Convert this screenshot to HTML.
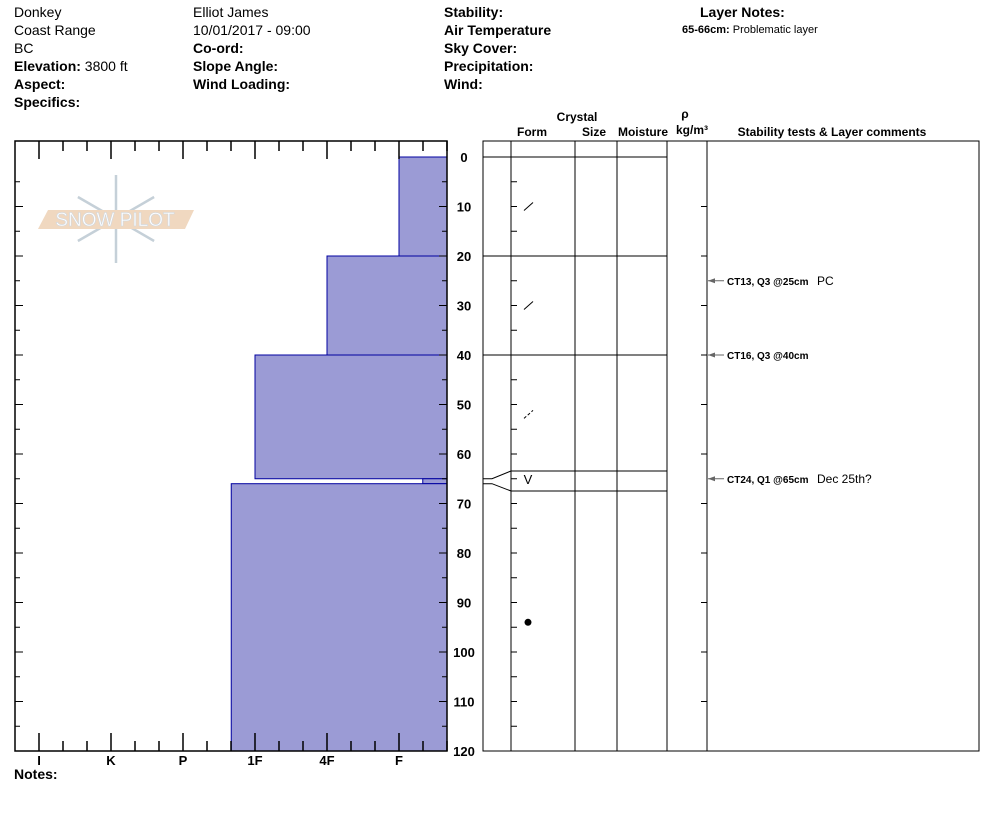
<!DOCTYPE html>
<html><head><meta charset="utf-8"><style>
body{margin:0;background:#fff;font-family:"Liberation Sans",Arial,sans-serif;}
.h{position:absolute;font-size:14px;color:#000;white-space:nowrap}
b{font-weight:bold}
</style></head><body>
<div style="position:relative;width:994px;height:840px;overflow:hidden">
<div class="h" style="left:14px;top:4px">Donkey</div>
<div class="h" style="left:14px;top:22px">Coast Range</div>
<div class="h" style="left:14px;top:40px">BC</div>
<div class="h" style="left:14px;top:58px"><b>Elevation:</b> 3800 ft</div>
<div class="h" style="left:14px;top:76px"><b>Aspect:</b></div>
<div class="h" style="left:14px;top:94px"><b>Specifics:</b></div>
<div class="h" style="left:193px;top:4px">Elliot James</div>
<div class="h" style="left:193px;top:22px">10/01/2017 - 09:00</div>
<div class="h" style="left:193px;top:40px"><b>Co-ord:</b></div>
<div class="h" style="left:193px;top:58px"><b>Slope Angle:</b></div>
<div class="h" style="left:193px;top:76px"><b>Wind Loading:</b></div>
<div class="h" style="left:444px;top:4px"><b>Stability:</b></div>
<div class="h" style="left:444px;top:22px"><b>Air Temperature</b></div>
<div class="h" style="left:444px;top:40px"><b>Sky Cover:</b></div>
<div class="h" style="left:444px;top:58px"><b>Precipitation:</b></div>
<div class="h" style="left:444px;top:76px"><b>Wind:</b></div>
<div class="h" style="left:700px;top:4px"><b>Layer Notes:</b></div>
<div class="h" style="left:682px;top:24px;font-size:11px"><b>65-66cm:</b> Problematic layer</div>
<div class="h" style="left:14px;top:766px"><b>Notes:</b></div>
<svg id="c" width="994" height="840" style="position:absolute;left:0;top:0" font-family="Liberation Sans, Arial, sans-serif"></svg>
</div>
<script>
const depthTicks=[0,10,20,30,40,50,60,70,80,90,100,110,120];
const hardLabels=['I','K','P','1F','4F','F'];
const layerTop=[0,20,40,65,66];
const layerBot=[20,40,65,66,120];
const layerHard=[5,4,3,5.33,2.67]; // index on hardness axis (I=0 .. F=5)
const layerLines=[0,20,40];
const formSym=[['/',10],['/',30],['⁄',52],['V',65],['●',94]];
const tests=[['CT13, Q3 @25cm','PC',25],['CT16, Q3 @40cm','',40],['CT24, Q1 @65cm','Dec 25th?',65]];
const svg=document.getElementById('c');const NS='http://www.w3.org/2000/svg';
const y=d=>157+d*4.95, hx=h=>39+h*72;
function el(t,a,p){const e=document.createElementNS(NS,t);for(const k in a)e.setAttribute(k,a[k]);(p||svg).appendChild(e);return e;}
// logo
const lg=el('g',{});
for(let a=0;a<6;a++){const r=a*60*Math.PI/180;const cx=116,cy=219;
 el('line',{x1:cx,y1:cy,x2:cx+44*Math.sin(r),y2:cy-44*Math.cos(r),stroke:'#c5d0d8','stroke-width':2.5},lg);}
el('polygon',{points:'48,210 194,210 185,229 38,229',fill:'#f0d8c0'},lg);
const lt=el('text',{x:115,y:226,'text-anchor':'middle','font-size':19,fill:'#fff',stroke:'#d0d8e0','stroke-width':0.6},lg);lt.textContent='SNOW PILOT';
// bars
layerTop.forEach((t,i)=>{const x=hx(layerHard[i]);const r=el('rect',{x:x,y:y(t),width:447-x,height:y(layerBot[i])-y(t),fill:'#9b9bd5',stroke:'#0000a0','stroke-width':1});
});
// left frame
const lf=el('rect',{x:15,y:141,width:432,height:610,fill:'none',stroke:'#000','stroke-width':1.5});
for(let i=0;i<18;i++){const x=39+i*24;if(x>447)break;const L=(i%3==0)?18:10;
 el('line',{x1:x,y1:141,x2:x,y2:141+L,stroke:'#000','stroke-width':1.5});el('line',{x1:x,y1:751,x2:x,y2:751-L,stroke:'#000','stroke-width':1.5});}
hardLabels.forEach((l,i)=>{const t=el('text',{x:hx(i),y:765,'text-anchor':'middle','font-size':13,'font-weight':'bold'});t.textContent=l;});
for(let d=5;d<120;d+=5){const L=d%10==0?8:5;el('line',{x1:15,y1:y(d),x2:15+L,y2:y(d),stroke:'#000'});el('line',{x1:447,y1:y(d),x2:447-L,y2:y(d),stroke:'#000'});}
depthTicks.forEach(d=>{const t=el('text',{x:464,y:y(d)+5,'text-anchor':'middle','font-size':13,'font-weight':'bold'});t.textContent=d;});
// right panel
const rf=el('rect',{x:483,y:141,width:496,height:610,fill:'none',stroke:'#000','stroke-width':1});
[511,575,617,667,707].forEach(x=>el('line',{x1:x,y1:141,x2:x,y2:751,stroke:'#000'}));
[['Crystal',577,121],['Form',532,136],['Size',594,136],['Moisture',643,136],['ρ',685,118],['kg/m³',692,134],['Stability tests & Layer comments',832,136]].forEach(([s,x,yy])=>{const t=el('text',{x:x,y:yy,'text-anchor':'middle','font-size':12,'font-weight':'bold'});t.textContent=s;});
for(let d=5;d<=115;d+=5){el('line',{x1:511,y1:y(d),x2:517,y2:y(d),stroke:'#000'});if(d%10==0)el('line',{x1:707,y1:y(d),x2:701,y2:y(d),stroke:'#000'});}
layerLines.forEach(d=>{el('line',{x1:483,y1:y(d),x2:667,y2:y(d),stroke:'#000'});});
el('line',{x1:511,y1:471,x2:667,y2:471,stroke:'#000'});el('line',{x1:511,y1:491,x2:667,y2:491,stroke:'#000'});
el('polyline',{points:`483,${y(65)} 492,${y(65)} 511,471`,fill:'none',stroke:'#000'});
el('polyline',{points:`483,${y(66)} 492,${y(66)} 511,491`,fill:'none',stroke:'#000'});
formSym.forEach(([s,d])=>{let t;if(s=='●'){t=el('circle',{cx:528,cy:y(d),r:3.5,fill:'#000'});}else if(s=='V'){t=el('text',{x:528,y:y(d)+5,'text-anchor':'middle','font-size':13});t.textContent='V';}
 else{t=el('line',{x1:524,y1:y(d)+4,x2:533,y2:y(d)-4,stroke:'#000','stroke-dasharray':s=='/'?'none':'3,2'});}
 });
tests.forEach(([a,b,d])=>{const yy=y(d);el('line',{x1:708,y1:yy,x2:724,y2:yy,stroke:'#666'});el('polygon',{points:`708,${yy} 715,${yy-2.5} 715,${yy+2.5}`,fill:'#666'});
 const t=el('text',{x:727,y:yy+4,'font-size':10,'font-weight':'bold'});t.textContent=a;
 if(b){const u=el('text',{x:817,y:yy+4,'font-size':12});u.textContent=b;}});
</script>
</body></html>
